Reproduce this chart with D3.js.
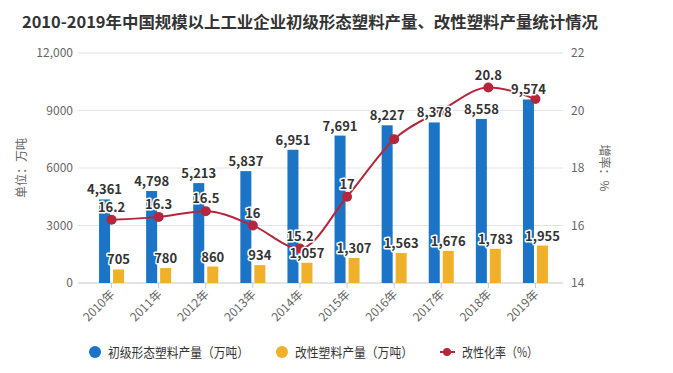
<!DOCTYPE html>
<html>
<head>
<meta charset="utf-8">
<script src="https://cdn.jsdelivr.net/npm/d3@7"></script>
<style>
  body { margin: 0; background: #fff; }
  svg { font-family: "Microsoft YaHei", "Noto Sans CJK SC", "Noto Sans", sans-serif; }
  .tick-label { fill: #666; font-size: 12px; }
  .val { font-size: 13px; font-weight: bold; fill: #333; stroke: #fff; stroke-width: 3px; paint-order: stroke; stroke-linejoin: round; }
</style>
</head>
<body>
<div id="chart"></div>
<script>
var years = ["2010年", "2011年", "2012年", "2013年", "2014年", "2015年", "2016年", "2017年", "2018年", "2019年"];
var primary = [4361, 4798, 5213, 5837, 6951, 7691, 8227, 8378, 8558, 9574];
var modified = [705, 780, 860, 934, 1057, 1307, 1563, 1676, 1783, 1955];
var rate = [16.2, 16.3, 16.5, 16, 15.2, 17, 19, 20, 20.8, 20.4];
// rate labels that the original chart hides because they overlap
var hiddenRate = ["2016年", "2017年", "2019年"];
var leftTicks = [0, 3000, 6000, 9000, 12000];
var rightTicks = [14, 16, 18, 20, 22];
var legendNames = ["初级形态塑料产量（万吨）", "改性塑料产量（万吨）", "改性化率（%）"];

var blue = "#1b74c5", gold = "#f0b02a", red = "#b5263c";

var svg = d3.select("#chart").append("svg")
  .attr("width", 673)
  .attr("height", 373);

svg.append("text")
  .attr("x", 22)
  .attr("y", 28)
  .attr("font-size", 16)
  .attr("font-weight", "bold")
  .attr("fill", "#333")
  .attr("textLength", 576)
  .attr("lengthAdjust", "spacingAndGlyphs")
  .text("2010-2019年中国规模以上工业企业初级形态塑料产量、改性塑料产量统计情况");

var x = d3.scaleBand().domain(years).range([88, 559]);
var y = d3.scaleLinear().domain([0, 12000]).range([283, 53]);
var y2 = d3.scaleLinear().domain([14, 22]).range([283, 53]);
function cx(d) { return x(d) + x.bandwidth() / 2; }

// grid
svg.append("g").selectAll("line")
  .data(leftTicks.slice(1))
  .enter().append("line")
  .attr("x1", 78).attr("x2", 563)
  .attr("y1", function(d) { return y(d); })
  .attr("y2", function(d) { return y(d); })
  .attr("stroke", "#e3e3e3");

svg.append("line")
  .attr("x1", 78).attr("x2", 563)
  .attr("y1", y(0)).attr("y2", y(0))
  .attr("stroke", "#c8c8c8");

svg.append("g").selectAll("line")
  .data(years)
  .enter().append("line")
  .attr("x1", cx).attr("x2", cx)
  .attr("y1", y(0)).attr("y2", y(0) + 5)
  .attr("stroke", "#c8c8c8");

// axis labels
svg.append("g").selectAll("text")
  .data(leftTicks)
  .enter().append("text")
  .attr("class", "tick-label")
  .attr("x", 73)
  .attr("y", function(d) { return y(d) + 4; })
  .attr("text-anchor", "end")
  .text(function(d) { return d >= 10000 ? d3.format(",")(d) : d; });

svg.append("g").selectAll("text")
  .data(rightTicks)
  .enter().append("text")
  .attr("class", "tick-label")
  .attr("x", 571)
  .attr("y", function(d) { return y2(d) + 4; })
  .text(function(d) { return d; });

svg.append("g").selectAll("text")
  .data(years)
  .enter().append("text")
  .attr("class", "tick-label")
  .attr("font-size", 11)
  .attr("text-anchor", "end")
  .attr("transform", function(d) { return "translate(" + (cx(d) + 4) + "," + (y(0) + 12) + ") rotate(-45)"; })
  .text(function(d) { return d; });

svg.append("text")
  .attr("class", "tick-label")
  .attr("font-size", 13)
  .attr("text-anchor", "middle")
  .attr("transform", "translate(26,168) rotate(-90)")
  .text("单位：万吨");

svg.append("text")
  .attr("class", "tick-label")
  .attr("font-size", 13)
  .attr("text-anchor", "middle")
  .attr("transform", "translate(600,168) rotate(90)")
  .text("增率：%");

// bars
svg.append("g").selectAll("rect")
  .data(years)
  .enter().append("rect")
  .attr("x", function(d) { return cx(d) - 12.5; })
  .attr("width", 11)
  .attr("y", function(d, i) { return y(primary[i]); })
  .attr("height", function(d, i) { return y(0) - y(primary[i]); })
  .attr("fill", blue);

svg.append("g").selectAll("rect")
  .data(years)
  .enter().append("rect")
  .attr("x", function(d) { return cx(d) + 1.5; })
  .attr("width", 11)
  .attr("y", function(d, i) { return y(modified[i]); })
  .attr("height", function(d, i) { return y(0) - y(modified[i]); })
  .attr("fill", gold);

// rate line
var line = d3.line()
  .x(function(d) { return cx(d); })
  .y(function(d, i) { return y2(rate[i]); })
  .curve(d3.curveMonotoneX);

svg.append("path")
  .datum(years)
  .attr("d", line)
  .attr("fill", "none")
  .attr("stroke", red)
  .attr("stroke-width", 2);

svg.append("g").selectAll("circle")
  .data(years)
  .enter().append("circle")
  .attr("cx", cx)
  .attr("cy", function(d, i) { return y2(rate[i]); })
  .attr("r", 5)
  .attr("fill", red);

// value labels
svg.append("g").selectAll("text")
  .data(years)
  .enter().append("text")
  .attr("class", "val")
  .attr("text-anchor", "middle")
  .attr("x", function(d) { return cx(d) - 7; })
  .attr("y", function(d, i) { return y(primary[i]) - 5; })
  .text(function(d, i) { return d3.format(",")(primary[i]); });

svg.append("g").selectAll("text")
  .data(years)
  .enter().append("text")
  .attr("class", "val")
  .attr("text-anchor", "middle")
  .attr("x", function(d) { return cx(d) + 7; })
  .attr("y", function(d, i) { return y(modified[i]) - 5; })
  .text(function(d, i) { return d3.format(",")(modified[i]); });

svg.append("g").selectAll("text")
  .data(years.filter(function(d) { return hiddenRate.indexOf(d) < 0; }))
  .enter().append("text")
  .attr("class", "val")
  .attr("text-anchor", "middle")
  .attr("x", cx)
  .attr("y", function(d) { return y2(rate[years.indexOf(d)]) - 8; })
  .text(function(d) { return rate[years.indexOf(d)]; });

// legend
var lg = svg.append("g").attr("font-size", 13).attr("fill", "#333");
lg.append("circle").attr("cx", 95).attr("cy", 352).attr("r", 6).attr("fill", blue);
lg.append("text").attr("x", 108).attr("y", 357)
  .attr("textLength", 141).attr("lengthAdjust", "spacingAndGlyphs").text(legendNames[0]);
lg.append("circle").attr("cx", 282).attr("cy", 352).attr("r", 6).attr("fill", gold);
lg.append("text").attr("x", 295).attr("y", 357)
  .attr("textLength", 118).attr("lengthAdjust", "spacingAndGlyphs").text(legendNames[1]);
lg.append("line").attr("x1", 440).attr("x2", 455).attr("y1", 352).attr("y2", 352)
  .attr("stroke", red).attr("stroke-width", 2);
lg.append("circle").attr("cx", 447).attr("cy", 352).attr("r", 4).attr("fill", red);
lg.append("text").attr("x", 462).attr("y", 357)
  .attr("textLength", 76).attr("lengthAdjust", "spacingAndGlyphs").text(legendNames[2]);
</script>
</body>
</html>
